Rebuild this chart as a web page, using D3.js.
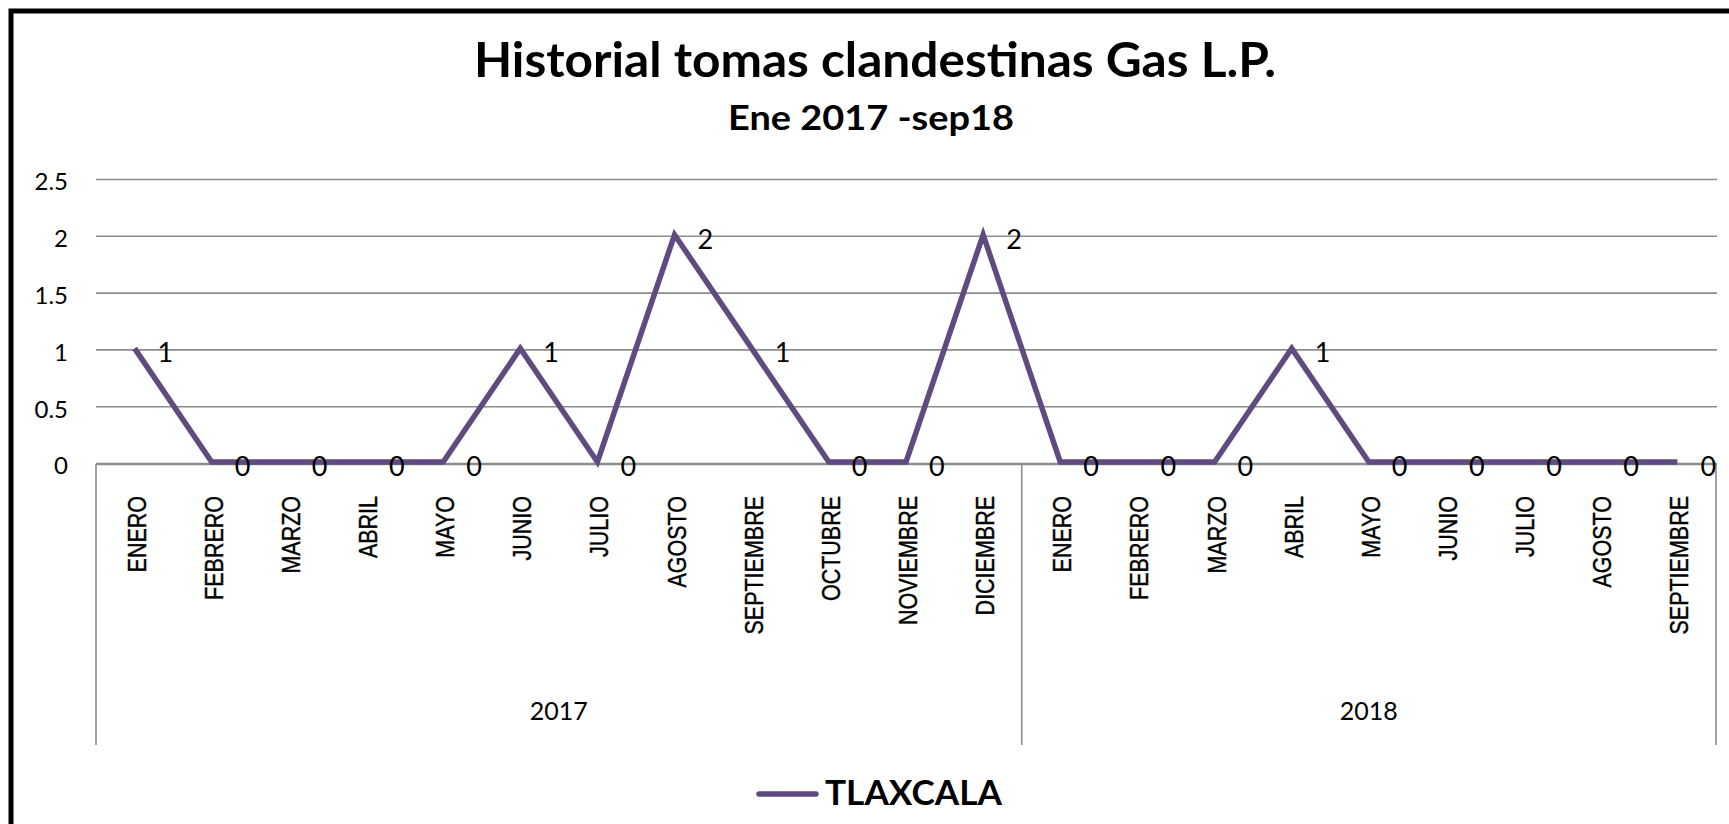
<!DOCTYPE html>
<html>
<head>
<meta charset="utf-8">
<script src="https://cdn.jsdelivr.net/npm/d3@7"></script>
<style>
  html, body { margin: 0; padding: 0; background: #ffffff; }
  svg { display: block; }
</style>
</head>
<body>
<svg id="chart" width="1729" height="824"></svg>
<script>
// ---- data ----
const chartTitle = "Historial tomas clandestinas Gas L.P.";
const chartSubtitle = "Ene 2017 -sep18";
const seriesName = "TLAXCALA";
const years = ["2017", "2018"];
const months2017 = ["ENERO", "FEBRERO", "MARZO", "ABRIL", "MAYO", "JUNIO", "JULIO", "AGOSTO", "SEPTIEMBRE", "OCTUBRE", "NOVIEMBRE", "DICIEMBRE"];
const months2018 = ["ENERO", "FEBRERO", "MARZO", "ABRIL", "MAYO", "JUNIO", "JULIO", "AGOSTO", "SEPTIEMBRE"];
const values2017 = [1, 0, 0, 0, 0, 1, 0, 2, 1, 0, 0, 2];
const values2018 = [0, 0, 0, 1, 0, 0, 0, 0, 0];
const yTicks = [0, 0.5, 1, 1.5, 2, 2.5];

const data = [
  ...months2017.map((m, i) => ({ year: years[0], month: m, value: values2017[i], key: years[0] + "-" + m })),
  ...months2018.map((m, i) => ({ year: years[1], month: m, value: values2018[i], key: years[1] + "-" + m }))
];

// ---- layout ----
const svg = d3.select("#chart");
const W = 1729, H = 824;
const plot = { left: 96, right: 1716, top: 179, bottom: 463, axisBottom: 745 };
const lineColor = "#5f4b80";
const gridColor = "#8c8c8c";
const numFont = "Lato, 'Open Sans', sans-serif";
const catFont = "'Liberation Sans', Arial, sans-serif";

svg.append("rect").attr("x", 0).attr("y", 0).attr("width", W).attr("height", H).attr("fill", "#ffffff");

// frame (clipped at right and bottom like the reference)
svg.append("rect")
  .attr("x", 11).attr("y", 11).attr("width", W + 20).attr("height", H + 20)
  .attr("fill", "none").attr("stroke", "#000").attr("stroke-width", 5);

const x = d3.scaleBand().domain(data.map(d => d.key)).range([plot.left, plot.right]);
const cx = k => x(k) + x.bandwidth() / 2;
const y = d3.scaleLinear().domain([0, 2.5]).range([plot.bottom, plot.top]);

// y axis with gridlines
const yAxis = d3.axisLeft(y)
  .tickValues(yTicks)
  .tickFormat(d3.format(""))
  .tickSizeInner(-(plot.right - plot.left + 1))
  .tickSizeOuter(0)
  .tickPadding(28);

const gy = svg.append("g").attr("transform", `translate(${plot.left},0)`).call(yAxis);
gy.select(".domain").remove();
gy.selectAll(".tick line").attr("stroke", gridColor).attr("stroke-width", 1.6);
gy.selectAll(".tick text")
  .attr("font-family", numFont).attr("font-size", 24).attr("fill", "#000")
  .attr("dy", "0.45em");

// category axis
const xAxis = d3.axisBottom(x).tickSize(0).tickFormat(k => data.find(d => d.key === k).month);
const gx = svg.append("g").attr("transform", `translate(0,${plot.bottom + 1})`).call(xAxis);
gx.select(".domain").attr("stroke", gridColor).attr("stroke-width", 1.6);
gx.selectAll(".tick text")
  .attr("font-family", catFont).attr("font-size", 21.5).attr("fill", "#000")
  .attr("stroke", "#000").attr("stroke-width", 0.35)
  .attr("text-anchor", "end")
  .attr("y", 0).attr("dy", 0)
  .attr("transform", "translate(11,32) rotate(-90) scale(1,1.18)");

// year group separators and labels
const yearBounds = years.map(yr => {
  const keys = data.filter(d => d.year === yr).map(d => d.key);
  return { year: yr, x0: x(keys[0]), x1: x(keys[keys.length - 1]) + x.bandwidth() };
});
const sepX = Array.from(new Set(yearBounds.flatMap(b => [b.x0, b.x1])));
svg.append("g").selectAll("line").data(sepX).join("line")
  .attr("x1", d => d).attr("x2", d => d)
  .attr("y1", plot.bottom + 1).attr("y2", plot.axisBottom)
  .attr("stroke", gridColor).attr("stroke-width", 1.6);

svg.append("g").selectAll("text").data(yearBounds).join("text")
  .attr("x", d => (d.x0 + d.x1) / 2).attr("y", 720)
  .attr("text-anchor", "middle")
  .attr("font-family", numFont).attr("font-size", 25).attr("fill", "#000")
  .text(d => d.year);

// line
const line = d3.line().x(d => cx(d.key)).y(d => y(d.value) - 1);
svg.append("path").datum(data)
  .attr("d", line)
  .attr("fill", "none").attr("stroke", lineColor).attr("stroke-width", 5.5)
  .attr("stroke-linejoin", "miter");

// data labels
svg.append("g").selectAll("text").data(data).join("text")
  .attr("x", d => cx(d.key) + 23).attr("y", d => y(d.value) + 13)
  .attr("font-family", numFont).attr("font-size", 27).attr("fill", "#000")
  .text(d => d.value);

// title
svg.append("text")
  .attr("x", 875).attr("y", 77).attr("text-anchor", "middle")
  .attr("font-family", numFont).attr("font-weight", "bold").attr("font-size", 47)
  .attr("textLength", 802).attr("lengthAdjust", "spacingAndGlyphs")
  .text(chartTitle);
svg.append("text")
  .attr("x", 871).attr("y", 130).attr("text-anchor", "middle")
  .attr("font-family", numFont).attr("font-weight", "bold").attr("font-size", 34)
  .attr("textLength", 286).attr("lengthAdjust", "spacingAndGlyphs")
  .text(chartSubtitle);

// legend
const lg = svg.append("g");
lg.append("line").attr("x1", 759).attr("x2", 816).attr("y1", 794).attr("y2", 794)
  .attr("stroke", lineColor).attr("stroke-width", 5.5).attr("stroke-linecap", "round");
lg.append("text").attr("x", 825).attr("y", 805)
  .attr("font-family", numFont).attr("font-weight", "bold").attr("font-size", 35).attr("fill", "#000")
  .attr("textLength", 177).attr("lengthAdjust", "spacingAndGlyphs")
  .text(seriesName);
</script>
</body>
</html>
